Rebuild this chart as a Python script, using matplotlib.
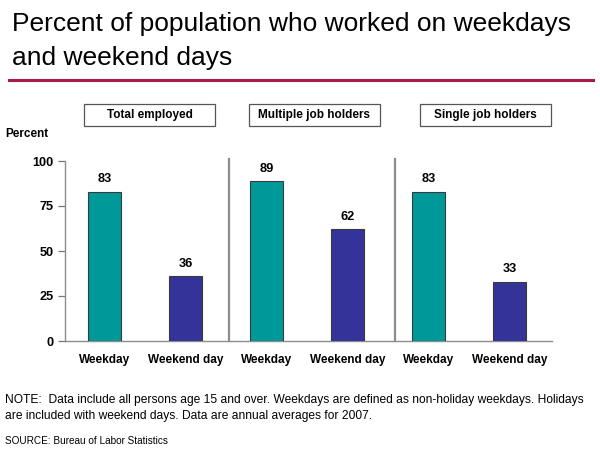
import matplotlib.pyplot as plt
from matplotlib.lines import Line2D
from matplotlib.patches import Rectangle

plt.rcParams['font.family'] = ['Liberation Sans', 'DejaVu Sans']

groups = ["Total employed", "Multiple job holders", "Single job holders"]
categories = ["Weekday", "Weekend day"]
weekday = [83, 89, 83]
weekend = [36, 62, 33]
y_ticks = [0, 25, 50, 75, 100]

TEAL = "#009999"
BLUE = "#333399"
EDGE = "#3a3a3a"
GRAY = "#8c8c8c"

fig = plt.figure(figsize=(6, 4.5), dpi=100)
ax = fig.add_axes([65 / 600, 1 - 341 / 450, 487 / 600, 180 / 450])

x_pos = []
values = []
colors = []
labels = []
for i in range(len(groups)):
    x_pos += [2 * i, 2 * i + 1]
    values += [weekday[i], weekend[i]]
    colors += [TEAL, BLUE]
    labels += categories

bars = ax.bar(x_pos, values, width=0.41, color=colors, edgecolor=EDGE, linewidth=0.8, zorder=3)
for b, v in zip(bars, values):
    ax.text(b.get_x() + b.get_width() / 2, v + 3.5, str(v), ha="center", va="bottom",
            fontsize=9.2, fontweight="bold")

ax.set_xlim(-0.49, 5.52)
ax.set_ylim(0, 100)
ax.set_yticks(y_ticks)
ax.set_yticklabels([str(t) for t in y_ticks], fontsize=9.2, fontweight="bold")
ax.set_xticks(x_pos)
ax.set_xticklabels(labels, fontsize=8.5, fontweight="bold")
ax.tick_params(axis="x", length=0, pad=9)
ax.tick_params(axis="y", length=5, width=0.9, color="#777777", pad=3)

for side in ["top", "right"]:
    ax.spines[side].set_visible(False)
for side in ["left", "bottom"]:
    ax.spines[side].set_color(GRAY)
    ax.spines[side].set_linewidth(1.0)

# group separators
for sx in [1.53, 3.58]:
    ax.axvline(sx, ymin=0, ymax=1.01, color=GRAY, linewidth=1.6, clip_on=False)

# group header boxes (pixel positions from the reference)
box_left = [84, 249, 420]
box_w = 131
for bl, g in zip(box_left, groups):
    fig.add_artist(Rectangle((bl / 600, 1 - 126 / 450), box_w / 600, 22 / 450,
                             transform=fig.transFigure, facecolor="white",
                             edgecolor="#555555", linewidth=0.9))
    fig.text((bl + box_w / 2) / 600, 1 - 115 / 450, g, ha="center", va="center",
             fontsize=8.5, fontweight="bold")

fig.text(5 / 600, 1 - 134 / 450, "Percent", fontsize=8.5, fontweight="bold", va="center", ha="left")

# title
fig.text(12 / 600, 1 - 31 / 450, "Percent of population who worked on weekdays",
         fontsize=19, va="baseline", ha="left")
fig.text(12 / 600, 1 - 65 / 450, "and weekend days",
         fontsize=19, va="baseline", ha="left")
fig.add_artist(Line2D([9 / 600, 593 / 600], [1 - 79.5 / 450] * 2, transform=fig.transFigure,
                      color="#a51c46", linewidth=2.2))

fig.text(5 / 600, 1 - 400 / 450,
         "NOTE:  Data include all persons age 15 and over. Weekdays are defined as non-holiday weekdays. Holidays",
         fontsize=8.65, va="center", ha="left")
fig.text(5 / 600, 1 - 416 / 450,
         "are included with weekend days. Data are annual averages for 2007.",
         fontsize=8.65, va="center", ha="left")
fig.text(5 / 600, 1 - 441 / 450, "SOURCE: Bureau of Labor Statistics", fontsize=7.2, va="center", ha="left")

fig.savefig("out.png", dpi=100)
